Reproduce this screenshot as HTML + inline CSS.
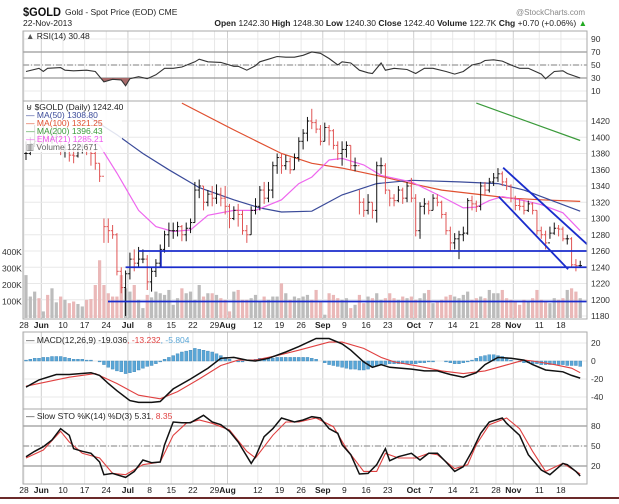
<!DOCTYPE html>
<html><head><meta charset="utf-8">
<style>
html,body{margin:0;padding:0;background:#fff;}
svg{display:block;font-family:"Liberation Sans",sans-serif;}
</style></head>
<body>
<svg id="chart" width="619" height="504" viewBox="0 0 619 504" xmlns="http://www.w3.org/2000/svg">
<rect x="0" y="0" width="619" height="504" fill="#fff"/>
<g>
<text x="23" y="16" font-size="12" font-weight="bold" fill="#111" textLength="38" lengthAdjust="spacingAndGlyphs">$GOLD</text>
<text x="65" y="15" font-size="8.5" fill="#222">Gold - Spot Price (EOD) CME</text>
<text x="585" y="15" font-size="8" fill="#888" text-anchor="end">@StockCharts.com</text>
<text x="23" y="26" font-size="8.5" fill="#222">22-Nov-2013</text>
<text x="587" y="26" font-size="8.5" fill="#222" text-anchor="end"><tspan font-weight="bold">Open</tspan> 1242.30 <tspan font-weight="bold">High</tspan> 1248.30 <tspan font-weight="bold">Low</tspan> 1240.30 <tspan font-weight="bold">Close</tspan> 1242.40 <tspan font-weight="bold">Volume</tspan> 122.7K <tspan font-weight="bold">Chg</tspan> +0.70 (+0.06%) <tspan fill="#2a2">▲</tspan></text>
</g>
<g id="grid"></g>
<g id="marks"></g>
<g id="labels"></g>
<rect x="0" y="497" width="619" height="2" fill="#6b2a2a"/>
</svg>
<script>
// ---- data ----
const closes=[1380,1392,1395,1393,1400,1398,1400,1404,1383,1385,1378,1377,1388,1388,1384,1380,1368,1352,1290,1285,1280,1235,1215,1232,1250,1245,1250,1250,1222,1235,1245,1262,1280,1285,1285,1290,1280,1288,1295,1335,1340,1320,1330,1325,1330,1325,1315,1300,1310,1305,1285,1280,1310,1315,1335,1325,1335,1365,1375,1365,1370,1360,1375,1395,1405,1420,1418,1410,1395,1412,1408,1390,1380,1385,1390,1365,1365,1320,1310,1320,1310,1365,1365,1335,1325,1322,1335,1325,1340,1325,1285,1315,1318,1310,1325,1320,1305,1285,1270,1275,1280,1282,1322,1318,1315,1340,1335,1345,1350,1355,1345,1340,1325,1316,1315,1310,1318,1310,1285,1280,1270,1282,1288,1287,1275,1275,1243,1242,1242];
const highs=[1395,1400,1415,1410,1415,1412,1410,1415,1405,1392,1390,1388,1395,1392,1392,1390,1385,1368,1300,1300,1292,1282,1240,1236,1258,1262,1265,1262,1255,1240,1250,1268,1285,1295,1295,1296,1292,1295,1300,1345,1348,1340,1335,1340,1342,1338,1340,1318,1315,1318,1310,1292,1315,1325,1340,1345,1345,1370,1380,1380,1378,1375,1380,1400,1410,1425,1435,1422,1415,1418,1415,1410,1395,1395,1395,1390,1375,1335,1325,1330,1320,1370,1375,1368,1335,1330,1340,1338,1345,1350,1330,1320,1325,1322,1330,1330,1322,1308,1290,1282,1285,1290,1325,1328,1322,1345,1345,1350,1356,1362,1358,1350,1342,1328,1325,1322,1322,1320,1310,1290,1285,1290,1295,1292,1290,1280,1277,1250,1248];
const lows=[1372,1378,1388,1385,1392,1390,1392,1395,1378,1375,1370,1368,1375,1380,1378,1365,1360,1345,1270,1270,1275,1230,1208,1180,1225,1235,1240,1245,1212,1210,1228,1240,1258,1265,1275,1278,1272,1272,1282,1295,1325,1310,1315,1315,1318,1315,1305,1288,1298,1290,1280,1270,1280,1305,1310,1318,1320,1325,1355,1355,1360,1355,1360,1370,1385,1395,1410,1405,1390,1395,1390,1385,1372,1365,1375,1360,1358,1305,1302,1305,1300,1295,1355,1330,1315,1315,1320,1318,1320,1320,1278,1275,1305,1305,1310,1315,1300,1280,1260,1262,1250,1272,1280,1310,1308,1310,1328,1332,1340,1345,1340,1335,1320,1310,1310,1305,1308,1305,1280,1275,1262,1275,1280,1278,1272,1268,1240,1235,1240];
const volumes=[260,130,160,120,40,140,180,95,130,110,90,100,85,70,110,115,200,350,200,150,130,130,260,180,160,200,110,60,140,125,160,150,140,170,80,120,180,150,160,110,200,130,150,150,140,120,110,40,160,170,110,110,120,140,100,130,110,130,130,210,150,110,130,120,130,140,110,170,100,20,150,140,120,110,120,60,80,140,90,130,120,150,110,120,150,120,110,130,120,130,110,120,150,170,90,100,110,130,140,130,120,140,160,110,120,130,120,170,150,150,170,120,110,100,80,110,100,120,170,110,100,90,120,110,120,170,180,160,120];
const ma50Idx=[14,21,27,33,40,48,54,59,66,73,81,89,100,109,115,121,128];
const ma50Val=[1427,1403,1380,1360,1338,1323,1313,1308,1309,1329,1343,1347,1345,1343,1335,1323,1309];
const ma100Idx=[36,48,59,66,73,81,89,96,104,112,119,128];
const ma100Val=[1442,1409,1380,1368,1362,1353,1343,1335,1330,1325,1323,1321];
const ma200Idx=[104,128];
const ma200Val=[1442,1396];
const emaIdx=[15,17,21,26,30,34,38,42,48,53,59,63,66,70,73,78,82,89,96,101,104,107,110,115,119,124,128];
const emaVal=[1396,1390,1356,1310,1290,1284,1286,1304,1310,1310,1323,1343,1351,1372,1374,1366,1353,1345,1327,1313,1314,1322,1327,1322,1317,1307,1285];
const rsiIdx=[0,3,4,5,8,9,11,14,16,18,20,22,23,24,26,28,30,32,34,36,39,40,42,45,48,49,51,53,54,56,58,60,62,64,66,68,70,72,73,75,77,79,80,82,83,85,88,90,92,94,97,99,101,103,105,106,108,110,112,114,116,119,120,122,124,125,128];
const rsiVal=[40,45,40,45,46,42,41,42,40,24,28,27,18,29,32,29,35,45,45,47,55,59,55,54,48,48,42,49,55,59,63,62,62,65,70,68,60,50,55,53,42,38,37,53,42,45,43,37,45,45,40,36,40,50,53,57,58,56,50,45,45,36,29,40,41,37,30];
const macdIdx=[0,3,7,10,15,17,19,21,24,26,29,31,34,38,42,45,48,51,53,56,60,63,67,70,73,75,78,80,82,84,89,92,95,98,101,104,106,109,112,115,117,120,124,126,128];
const macdVal=[-29,-21,-15,-15,-13,-16,-25,-33,-44,-46,-46,-45,-31,-20,-8,3,4,1,0,3,10,16,25,25,19,12,-1,-7,-4,-7,-9,-11,-11,-15,-18,-13,-4,4,3,1,-4,-10,-12,-16,-19];
const sigIdx=[0,5,10,16,21,26,31,35,40,45,49,53,58,63,70,73,78,82,85,91,96,101,106,112,115,117,122,126,128];
const sigVal=[-28,-23,-18,-14,-25,-38,-42,-34,-20,-5,1,1,6,12,21,21,14,4,-1,-6,-11,-14,-11,-3,1,0,-4,-8,-13];
const histVal=[1,2,3,3,4,4,5,5,5,4,3,2,2,2,1,1,0,-1,-4,-7,-9,-11,-12,-14,-13,-12,-10,-8,-6,-5,-3,-1,2,4,6,8,10,11,12,14,13,12,11,10,8,6,4,2,0,-1,-1,0,1,2,3,3,3,3,4,4,4,4,4,4,4,4,3,2,0,-2,-4,-5,-6,-7,-8,-9,-9,-10,-10,-9,-7,-5,-4,-4,-3,-3,-3,-3,-3,-3,-3,-2,-2,-1,-1,0,0,-1,-2,-3,-3,-2,-1,1,3,5,6,7,7,6,5,3,1,0,-1,-2,-2,-3,-3,-4,-4,-4,-4,-4,-4,-5,-5,-5,-6];
const kIdx=[0,2,4,6,8,10,11,13,15,17,18,20,23,25,27,29,31,32,34,36,38,41,43,45,47,49,52,53,55,57,59,62,64,66,68,70,72,73,75,77,79,81,83,84,86,89,91,93,95,97,99,101,103,105,107,110,111,114,116,119,121,124,125,127,128];
const kVal=[34,42,49,59,76,66,46,42,39,26,7,9,3,12,29,25,26,52,86,85,85,96,86,82,72,56,24,34,64,76,92,86,89,94,92,76,69,52,37,8,9,22,46,28,34,39,29,39,39,26,12,19,42,69,86,92,84,66,37,14,7,24,22,12,5];
const dIdx=[0,4,8,10,13,17,20,23,27,31,34,37,40,43,47,51,53,57,60,63,67,71,74,78,81,83,86,90,93,95,99,102,104,107,111,114,117,120,124,126,128];
const dVal=[32,44,72,56,39,32,9,7,22,26,66,84,89,84,74,42,32,66,86,86,92,79,46,12,12,39,32,32,39,37,16,22,52,82,92,76,42,12,24,16,8];
const tickIdx=[0,4,9,14,19,24,29,34,39,44,47,54,59,64,69,74,79,84,90,94,99,104,109,113,119,124];
const tickLabels=["28","Jun","10","17","24","Jul","8","15","22","29","Aug","12","19","26","Sep","9","16","23","Oct","7","14","21","28","Nov","11","18"];
const priceTicks=[1180,1200,1220,1240,1260,1280,1300,1320,1340,1360,1380,1400,1420];
const volTicks=[100,200,300,400];
const rsiTicks=[90,70,50,30,10];
const macdTicks=[20,0,-20,-40];
const stoTicks=[80,50,20];
const supportLevels=[1260,1240];
const supportStart=[26,23];

// ---- axes ----
const L=23,R=587;
const x=i=>26+i*4.33;
const yR=v=>39+(90-v)*0.65;
const yP=p=>121+(1420-p)*0.8125;
const yV=v=>318-v*0.165;
const yM=v=>361-v*0.9;
const yS=v=>426+(80-v)*0.667;
const NS="http://www.w3.org/2000/svg";
const grid=document.getElementById('grid'),marks=document.getElementById('marks'),labels=document.getElementById('labels');
function mk(tag,attrs,parent,txt){const e=document.createElementNS(NS,tag);for(const k in attrs)e.setAttribute(k,attrs[k]);if(txt!==undefined)e.textContent=txt;parent.appendChild(e);return e;}
const panels=[[31,101,'rsi-panel'],[101,319,'price-panel'],[332,409,'macd-panel'],[409,484,'sto-panel']];
tickIdx.forEach((ti,k)=>{
  const isMonth=isNaN(+tickLabels[k]);
  panels.forEach(p=>{
    const ln=mk('line',{x1:x(ti)-2,x2:x(ti)-2,y1:p[0],y2:p[1],stroke:isMonth?'#cfcfcf':'#e8e8e8','stroke-width':1},grid);
    
    
  });
  [328,493].forEach(yy=>{
    const t=mk('text',{x:x(ti)-2,y:yy,'font-size':8.5,'text-anchor':'middle',fill:'#222','font-weight':isMonth?'bold':'normal'},labels,tickLabels[k]);
    
    
  });
});
function hgrid(vals,yf){vals.forEach(v=>{
  const ln=mk('line',{x1:L,x2:R,y1:yf(v),y2:yf(v),stroke:'#e8e8e8'},grid);
  
  
  const t=mk('text',{x:591,y:yf(v)+3,'font-size':8.5,fill:'#333'},labels,v);
  
  
});}
hgrid(rsiTicks,yR);hgrid(priceTicks,yP);hgrid(macdTicks,yM);hgrid(stoTicks,yS);
volTicks.forEach(v=>{
  const t=mk('text',{x:2,y:yV(v)+3,'font-size':8.5,fill:'#333'},labels,v+'K');
  
  
});
function ref(v,yf,dash,name){const ln=mk('line',{x1:L,x2:R,y1:yf(v),y2:yf(v),stroke:'#999','stroke-width':1.2,'stroke-dasharray':dash||''},grid);
  
  }
ref(70,yR,'','rsi-70-line');ref(30,yR,'','rsi-30-line');ref(50,yR,'6,2,1,2','rsi-50-line');
ref(80,yS,'','sto-80-line');ref(20,yS,'','sto-20-line');ref(50,yS,'6,2,1,2','sto-50-line');
volumes.forEach((v,i)=>{
  const down=i>0&&closes[i]<closes[i-1];
  const r=mk('rect',{x:x(i)-1.6,y:yV(v),width:3.2,height:318-yV(v),fill:down?'#eab8b8':'#bcbcbc'},marks);
  
  
});
function line(idx,vals,yf,color,name,w){
  const pts=idx.map((ii,k)=>x(ii).toFixed(1)+','+yf(vals[k]).toFixed(1)).join(' ');
  const p=mk('polyline',{points:pts,fill:'none',stroke:color,'stroke-width':w||1.2},marks);
  
  
  return pts;
}
line(ma100Idx,ma100Val,yP,'#e05030','ma100-line');
line(ma200Idx,ma200Val,yP,'#3a9a3a','ma200-line');
line(ma50Idx,ma50Val,yP,'#3a4a99','ma50-line');
line(emaIdx,emaVal,yP,'#ee66ee','ema21-line');
closes.forEach((c,i)=>{
  const o=i>0?closes[i-1]:c;
  const col=(i>0&&c<closes[i-1])?'#e05555':'#111';
  const g=mk('g',{stroke:col,'stroke-width':1},marks);
  
  
  mk('line',{x1:x(i),x2:x(i),y1:yP(highs[i]),y2:yP(lows[i])},g);
  mk('line',{x1:x(i)-1.8,x2:x(i),y1:yP(o),y2:yP(o)},g);
  mk('line',{x1:x(i),x2:x(i)+1.8,y1:yP(c),y2:yP(c)},g);
});
supportLevels.forEach((lv,k)=>{
  const ln=mk('line',{x1:x(supportStart[k]),x2:R,y1:yP(lv),y2:yP(lv),stroke:'#1a2ccc','stroke-width':1.8},marks);
  
  
});
{const ln=mk('line',{x1:161,x2:161,y1:yP(1260),y2:yP(1240),stroke:'#1a2ccc','stroke-width':1.5},marks);

}
{const ln=mk('line',{x1:108,x2:R,y1:yV(100),y2:yV(100),stroke:'#1a2ccc','stroke-width':1.8},marks);

}
{const ln=mk('line',{x1:x(110.2),y1:yP(1362.5),x2:R,y2:yP(1362.5)+(R-x(110.2))*((yP(1263.3)-yP(1362.5))/(x(130.6)-x(110.2))),stroke:'#1a2ccc','stroke-width':1.8},marks);

}
{const ln=mk('line',{x1:x(109.2),y1:yP(1326.8),x2:x(125.2),y2:yP(1237.5),stroke:'#1a2ccc','stroke-width':1.8},marks);

}
{const defs=mk('defs',{},marks);const cp=mk('clipPath',{id:'below30'},defs);mk('rect',{x:L,y:yR(30),width:R-L,height:101-yR(30)},cp);
const pts=rsiIdx.map((ii,k)=>x(ii).toFixed(1)+','+yR(rsiVal[k]).toFixed(1)).join(' ');
const poly=mk('polygon',{points:x(rsiIdx[0])+','+yR(30)+' '+pts+' '+x(rsiIdx[rsiIdx.length-1])+','+yR(30),fill:'#a86a6a','clip-path':'url(#below30)'},marks);

}
line(rsiIdx,rsiVal,yR,'#333','rsi-line',1.1);
histVal.forEach((h,i)=>{
  const r=mk('rect',{x:x(i)-1.5,y:Math.min(yM(0),yM(h)),width:3,height:Math.abs(yM(h)-yM(0)),fill:'#5aa6d6',stroke:'#3c86b8','stroke-width':0.4},marks);
  
  
});
line(sigIdx,sigVal,yM,'#e04040','macd-signal-line',1.1);
line(macdIdx,macdVal,yM,'#111','macd-line',1.5);
line(dIdx,dVal,yS,'#e04040','sto-d-line',1.1);
line(kIdx,kVal,yS,'#111','sto-k-line',1.5);
panels.forEach(p=>{const r=mk('rect',{x:L,y:p[0],width:R-L,height:p[1]-p[0],fill:'none',stroke:'#aaa','stroke-width':1},labels);
  
  });
function leg(xx,yy,parts,name){
  const t=mk('text',{x:xx,y:yy,'font-size':8.5},labels);
  
  
  parts.forEach(pp=>mk('tspan',{fill:pp[1]},t,pp[0]));
}
{const bg=mk('rect',{x:24,y:102,width:98,height:50,fill:'#fff','fill-opacity':0.85},labels);

}
leg(26,39,[['▲ ','#555'],['RSI(14) 30.48','#222']],'rsi-legend');
leg(26,110,[['⊎ $GOLD (Daily) 1242.40','#222']],'price-legend-title');
leg(26,118,[['— MA(50) 1308.80','#3a4a99']],'legend-ma50');
leg(26,126,[['— MA(100) 1321.25','#e05030']],'legend-ma100');
leg(26,134,[['— MA(200) 1396.43','#3a9a3a']],'legend-ma200');
leg(26,142,[['— EMA(21) 1285.21','#ee55ee']],'legend-ema21');
leg(26,150,[['▥ Volume 122,671','#666']],'legend-volume');
leg(26,343,[['— MACD(12,26,9) -19.036','#222'],[', -13.232','#e04040'],[', -5.804','#5aa6d6']],'macd-legend');
leg(26,419,[['— Slow STO %K(14) %D(3) 5.31','#222'],[', 8.35','#e04040']],'sto-legend');
</script>
</body></html>
